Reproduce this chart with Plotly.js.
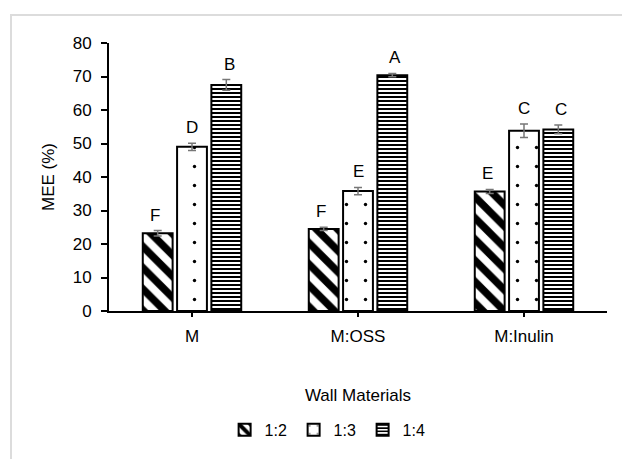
<!DOCTYPE html>
<html><head><meta charset="utf-8">
<script src="https://cdn.plot.ly/plotly-3.0.1.min.js"></script>
<style>
html,body{margin:0;padding:0;background:#fff;}
#frame{position:absolute;left:10px;top:14px;width:640px;height:460px;border-left:2px solid #dcdcdc;border-top:2px solid #dcdcdc;pointer-events:none;z-index:2;}
#chart{position:absolute;left:0;top:0;width:622px;height:459px;}
</style></head>
<body>
<div id="chart"></div>
<div id="frame"></div>
<script>
const categories = ["M", "M:OSS", "M:Inulin"];
const seriesNames = ["1:2", "1:3", "1:4"];
const values12 = [23.2, 24.5, 35.7];
const values13 = [49.0, 35.8, 53.8];
const values14 = [67.5, 70.4, 54.2];
const err12 = [0.8, 0.5, 0.6];
const err13 = [1.1, 1.1, 2.0];
const err14 = [1.6, 0.5, 1.3];
const letters12 = ["F", "F", "E"];
const letters13 = ["D", "E", "C"];
const letters14 = ["B", "A", "C"];

const font = {family: "Liberation Sans, Arial, sans-serif", size: 17, color: "#000"};
const patterns = [
  {shape: "\\", fgcolor: "#000", bgcolor: "#fff", fgopacity: 1, size: 15, solidity: 0.5, fillmode: "replace"},
  {shape: ".", fgcolor: "#000", bgcolor: "#fff", fgopacity: 1, size: 19, solidity: 0.025, fillmode: "replace"},
  {shape: "-", fgcolor: "#000", bgcolor: "#fff", fgopacity: 1, size: 4, solidity: 0.5, fillmode: "replace"}
];
const vals = [values12, values13, values14];
const errs = [err12, err13, err14];
const lets = [letters12, letters13, letters14];

const traces = seriesNames.map((n, i) => ({
  type: "bar", name: n, x: categories, y: vals[i],
  marker: {color: "#fff", pattern: patterns[i], line: {color: "#000", width: 2}},
  error_y: {type: "data", array: errs[i], visible: true, color: "#777", thickness: 1.5, width: 4}
}));

const shifts = [-37, 0, 37];
const annotations = [];
for (let i = 0; i < 3; i++) {
  for (let j = 0; j < categories.length; j++) {
    annotations.push({
      x: categories[j], y: vals[i][j] + errs[i][j], xref: "x", yref: "y",
      text: lets[i][j], showarrow: false, xshift: shifts[i], yanchor: "bottom", yshift: 4,
      font: font
    });
  }
}

const layout = {
  width: 622, height: 459,
  margin: {l: 109, r: 15, t: 43, b: 148},
  paper_bgcolor: "#fff", plot_bgcolor: "#fff",
  font: font,
  barmode: "group", bargap: 0.38, bargroupgap: 0.13,
  showlegend: true,
  legend: {orientation: "h", x: 0.44, xanchor: "center", y: -0.38, yanchor: "top",
           font: {family: font.family, size: 16, color: "#000"},
           itemwidth: 30, entrywidth: 24, entrywidthmode: "pixels", tracegroupgap: 0},
  xaxis: {
    showline: true, linecolor: "#000", linewidth: 2, ticks: "outside", ticklen: 4, tickwidth: 2, tickcolor: "#000",
    showgrid: false, tickfont: font, ticklabelstandoff: 5,
    title: {text: "Wall Materials", font: font, standoff: 44}
  },
  yaxis: {
    range: [0, 80], dtick: 10, showline: true, linecolor: "#000", linewidth: 2, ticks: "outside", ticklen: 6, tickwidth: 2, tickcolor: "#000",
    showgrid: false, zeroline: false, tickfont: font, ticklabelstandoff: 6,
    title: {text: "MEE (%)", font: font, standoff: 14}
  },
  annotations: annotations
};
Plotly.newPlot("chart", traces, layout, {displayModeBar: false, staticPlot: true});
</script>
</body></html>
